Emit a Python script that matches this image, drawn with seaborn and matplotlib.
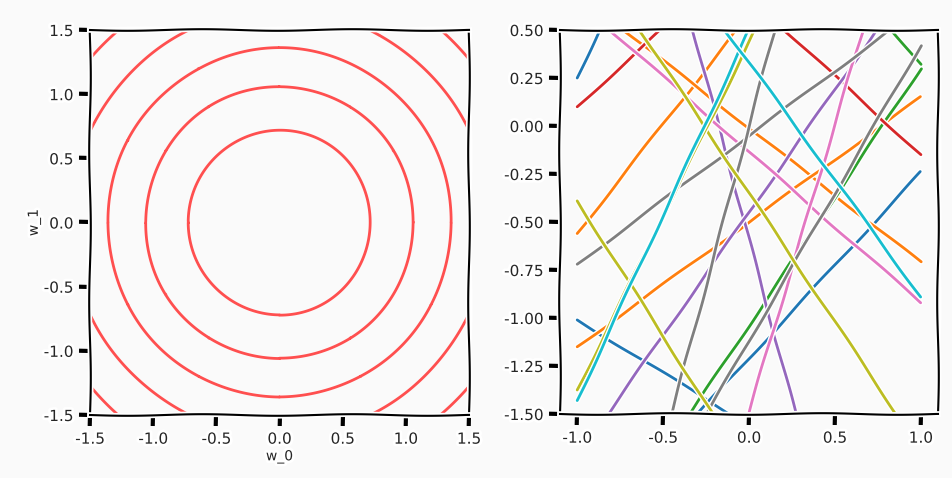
import numpy as np
import pandas as pd
import matplotlib
matplotlib.use("Agg")
import matplotlib.pyplot as plt
import seaborn as sns

# ---- data ----
# left panel: radii of the circular contours (w_0, w_1 plane)
contour_radii = [0.72, 1.06, 1.36, 1.66, 1.97]
contour_color = "#ff4f4f"

# right panel: sampled lines y = w0 + w1 * x
line_w0 = [2.20, -1.56, -1.21, 0.58, -0.01, -0.50, 1.39, -1.04, 0.92, 0.67,
           -0.59, -0.45, -0.135, -1.49, -0.05, 0.00, -1.12, -0.35, -1.80, 0.435,
           0.50, 0.33]
line_w1 = [1.95, -0.55, 0.97, 1.14, -0.70, 0.65, -1.07, 1.34, 0.82, -0.82,
           -3.35, 1.28, -0.785, 3.00, 0.67, 3.33, 1.54, -1.34, -1.41, 1.81,
           1.93, -1.22]
line_colors = ["#1f77b4", "#1f77b4", "#1f77b4", "#ff7f0e", "#ff7f0e", "#ff7f0e",
               "#2ca02c", "#2ca02c", "#d62728", "#d62728", "#9467bd", "#9467bd",
               "#e377c2", "#e377c2", "#7f7f7f", "#7f7f7f", "#7f7f7f", "#bcbd22",
               "#bcbd22", "#bcbd22", "#17becf", "#17becf"]
x_ends = [-1.0, 1.0]

left_ticks = [-1.5, -1.0, -0.5, 0.0, 0.5, 1.0, 1.5]
right_xticks = [-1.0, -0.5, 0.0, 0.5, 1.0]
right_yticks = [0.50, 0.25, 0.00, -0.25, -0.50, -0.75, -1.00, -1.25, -1.50]

# ---- style ----
sns.set_style("white")
plt.xkcd(scale=0.8, length=150, randomness=1)
plt.rcParams["font.family"] = ["DejaVu Sans"]
plt.rcParams["font.size"] = 11
plt.rcParams["axes.unicode_minus"] = False

bg = "#fafafa"
fig = plt.figure(figsize=(9.52, 4.78), dpi=100, facecolor=bg)
ax1 = fig.add_axes([90 / 952, 1 - 415 / 478, 379 / 952, 385 / 478])
ax2 = fig.add_axes([560 / 952, 1 - 414 / 478, 378 / 952, 384 / 478])
for ax in (ax1, ax2):
    ax.set_facecolor(bg)

# ---- left: contours ----
g = np.linspace(-1.5, 1.5, 301)
W0, W1 = np.meshgrid(g, g)
R = np.hypot(W0, W1)
cs = ax1.contour(W0, W1, R, levels=contour_radii, colors=contour_color, linewidths=2)
cs.set_sketch_params(0.35, 200, 1)
ax1.set_xlim(-1.5, 1.5)
ax1.set_ylim(-1.5, 1.5)
ax1.set_xticks(left_ticks)
ax1.set_yticks(left_ticks)
ax1.set_xticklabels([f"{t:.1f}" for t in left_ticks])
ax1.set_yticklabels([f"{t:.1f}" for t in left_ticks])
ax1.set_xlabel("w_0", fontsize=10, labelpad=2)
ax1.set_ylabel("w_1", fontsize=10, labelpad=2)

# ---- right: lines ----
rows = []
for i, (b, m) in enumerate(zip(line_w0, line_w1)):
    for x in x_ends:
        rows.append({"x": x, "y": b + m * x, "line": i})
df = pd.DataFrame(rows)
sns.lineplot(data=df, x="x", y="y", hue="line", palette=line_colors,
             legend=False, ax=ax2, linewidth=2, sort=False)
ax2.set_xlim(-1.1, 1.1)
ax2.set_ylim(-1.5, 0.5)
ax2.set_xticks(right_xticks)
ax2.set_yticks(right_yticks)
ax2.set_xticklabels([f"{t:.1f}" for t in right_xticks])
ax2.set_yticklabels([f"{t:.2f}" for t in right_yticks])
ax2.set_xlabel("")
ax2.set_ylabel("")

for ax in (ax1, ax2):
    for s in ax.spines.values():
        s.set_visible(True)
        s.set_color("black")
        s.set_linewidth(1.5)
    ax.tick_params(axis="both", which="major", bottom=True, left=True,
                   top=False, right=False, direction="out", length=8,
                   width=3, color="black", labelsize=11, pad=4)

fig.savefig("out.png", dpi=100, facecolor=bg)
